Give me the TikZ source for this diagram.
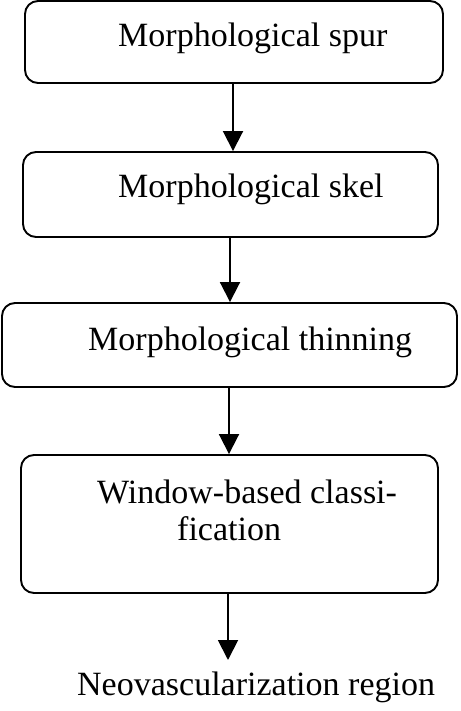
\documentclass[tikz,border=0pt]{standalone}
\usepackage{fontspec}
\setmainfont{Liberation Serif}
\usetikzlibrary{arrows.meta}
\begin{document}
\begin{tikzpicture}[x=1pt,y=-1pt,
  box/.style={draw, line width=1.9pt, rounded corners=13pt, inner sep=0pt},
  lbl/.style={anchor=base west, inner sep=0pt, font=\fontsize{34}{40}\selectfont},
  flow/.style={line width=1.9pt, -{Triangle[width=20pt,length=20pt]}}]
\useasboundingbox (0,0) rectangle (460,711);
\node[box, minimum width=418pt, minimum height=82pt] (b1) at (234,42) {};
\node[box, minimum width=415pt, minimum height=85pt] (b2) at (230.5,194.5) {};
\node[box, minimum width=455pt, minimum height=84pt] (b3) at (229.5,345) {};
\node[box, minimum width=417pt, minimum height=138pt] (b4) at (229.5,524) {};
\node[lbl] (t1) at (118,47) {Morphological spur};
\node[lbl] (t2) at (118,197) {Morphological skel};
\node[lbl] (t3) at (88,350) {Morphological thinning};
\node[lbl] (t4a) at (97,503) {Window-based classi-};
\node[lbl] (t4b) at (177,540) {fication};
\node[lbl] (out) at (77,695) {Neovascularization region};
\coordinate (end) at (228,660);
\draw[flow] (233,83) coordinate (s1) -- (s1 |- b2.north);
\draw[flow] (230,237) coordinate (s2) -- (s2 |- b3.north);
\draw[flow] (229,387) coordinate (s3) -- (s3 |- b4.north);
\draw[flow] (end |- b4.south) -- (end);
\end{tikzpicture}
\end{document}
